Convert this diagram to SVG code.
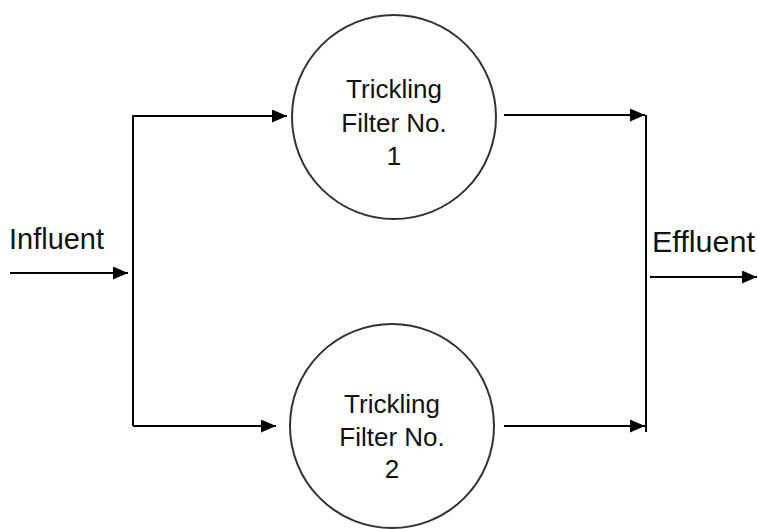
<svg xmlns="http://www.w3.org/2000/svg" width="758" height="529" viewBox="0 0 758 529">
<style>
.ln{stroke:#000;stroke-width:2;fill:none}
.nd{stroke:#333;stroke-width:2;fill:#fff}
text{font-family:"Liberation Sans",Arial,sans-serif;font-size:26px;fill:#111}
.lb{font-size:29px}
.c{text-anchor:middle}
</style>
<defs>
<marker id="ah" markerWidth="15" markerHeight="13" refX="15" refY="6.5" orient="auto" markerUnits="userSpaceOnUse">
<path d="M0,0 L15,6.5 L0,13 Z" fill="#000"/>
</marker>
</defs>
<rect width="758" height="529" fill="#fff"/>
<g id="connectors">
<path class="ln" d="M10,273 L128,273" marker-end="url(#ah)"/>
<path class="ln" d="M133,426 L133,116 L287,116" marker-end="url(#ah)"/>
<path class="ln" d="M133,426 L276,426" marker-end="url(#ah)"/>
<path class="ln" d="M504,115 L645,115" marker-end="url(#ah)"/>
<path class="ln" d="M504,426 L645,426" marker-end="url(#ah)"/>
<path class="ln" d="M646,115 L646,432"/>
<path class="ln" d="M650,277 L757,277" marker-end="url(#ah)"/>
</g>
<g id="influent"><text class="lb" x="9" y="249" textLength="95" lengthAdjust="spacingAndGlyphs">Influent</text></g>
<g id="effluent"><text class="lb" x="652" y="252" textLength="103" lengthAdjust="spacingAndGlyphs">Effluent</text></g>
<g id="filter1">
<circle class="nd" cx="394" cy="117" r="102"/>
<text class="c" x="394" y="98">Trickling</text>
<text class="c" x="394" y="132">Filter No.</text>
<text class="c" x="394" y="165">1</text>
</g>
<g id="filter2">
<circle class="nd" cx="392" cy="426" r="102"/>
<text class="c" x="392" y="413">Trickling</text>
<text class="c" x="392" y="446">Filter No.</text>
<text class="c" x="392" y="478">2</text>
</g>
</svg>
